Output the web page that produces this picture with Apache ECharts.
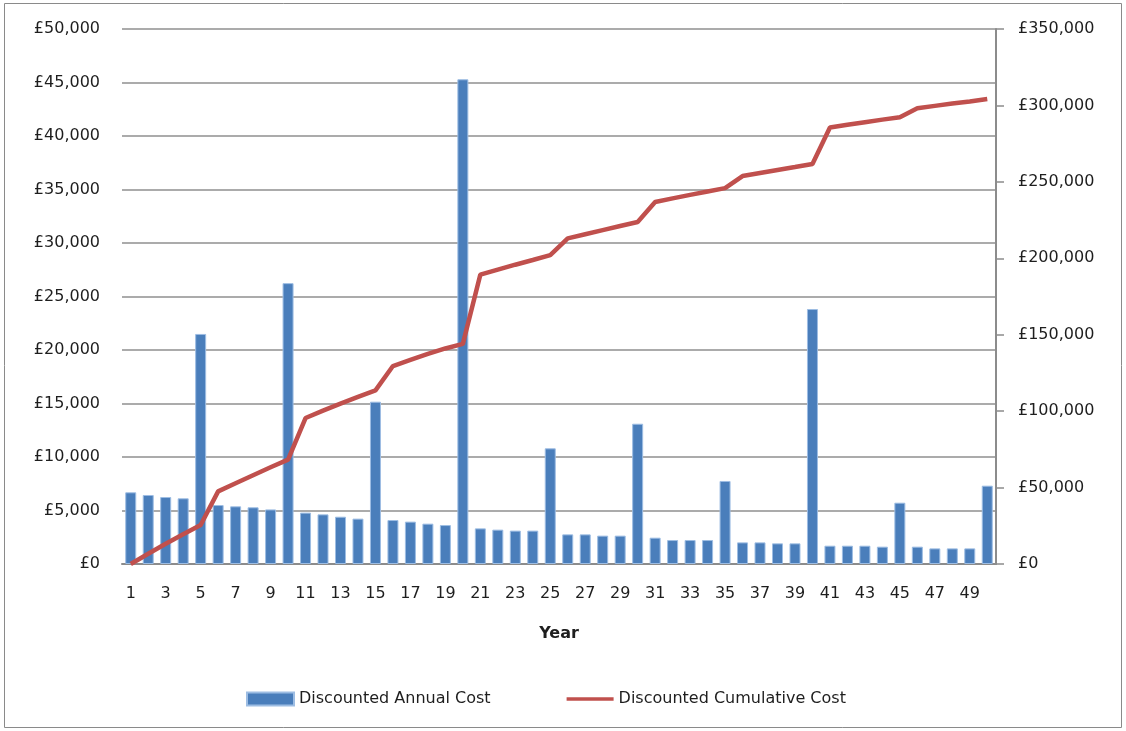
<!DOCTYPE html>
<html>
<head>
<meta charset="utf-8">
<script src="https://cdn.jsdelivr.net/npm/echarts@6/dist/echarts.min.js"></script>
<style>
  html, body { margin: 0; padding: 0; background: #ffffff; }
  #chart { width: 1126px; height: 731px; }
</style>
</head>
<body>
<div id="chart"></div>
<script>
// Years of the appraisal period
const years = ['1','2','3','4','5','6','7','8','9','10',
  '11','12','13','14','15','16','17','18','19','20',
  '21','22','23','24','25','26','27','28','29','30',
  '31','32','33','34','35','36','37','38','39','40',
  '41','42','43','44','45','46','47','48','49','50'];

// Discounted cost incurred in each year (£)
const annualCost = [6700, 6450, 6260, 6140, 21500, 5510, 5390, 5300, 5100, 26250,
  4800, 4640, 4420, 4240, 15170, 4110, 3960, 3770, 3640, 45300,
  3330, 3210, 3120, 3120, 10810, 2770, 2770, 2650, 2650, 13110,
  2460, 2240, 2240, 2240, 7760, 2020, 2020, 1930, 1930, 23830,
  1710, 1710, 1710, 1620, 5730, 1620, 1460, 1460, 1460, 7320];

// Running total of discounted cost (£)
const cumulativeCost = [0, 6700, 13200, 19400, 25500, 47500, 52800, 58100, 63300, 68300,
  95500, 100300, 104900, 109300, 113600, 129500, 133500, 137400, 141000, 144000,
  189300, 192600, 195800, 198900, 202100, 213000, 215700, 218400, 221100, 223700,
  236800, 239200, 241500, 243700, 245900, 253800, 255800, 257800, 259700, 261700,
  285600, 287300, 289000, 290700, 292300, 298100, 299700, 301200, 302600, 304200];

// Axis ranges
const leftAxisMax = 50000, leftAxisStep = 5000;
const rightAxisMax = 350000, rightAxisStep = 50000;

const pounds = v => '£' + Number(v).toLocaleString('en-GB');
const FONT = 'DejaVu Sans';
const TEXT = '#1e1e1e';
const SIZE = 16;

const chart = echarts.init(document.getElementById('chart'), null, { renderer: 'canvas' });

chart.setOption({
  backgroundColor: '#ffffff',
  animation: false,
  textStyle: { fontFamily: FONT, color: TEXT },
  graphic: [{
    type: 'rect',
    shape: { x: 4.5, y: 3.5, width: 1117, height: 724 },
    style: { fill: 'none', stroke: '#8a8a8a', lineWidth: 1 },
    silent: true
  }],
  grid: { left: 122, right: 130, top: 29, bottom: 167, containLabel: false },
  legend: {
    top: 686,
    left: 241,
    itemGap: 76,
    itemWidth: 47,
    itemHeight: 13,
    textStyle: { fontFamily: FONT, fontSize: SIZE, color: TEXT },
    data: [
      { name: 'Discounted Annual Cost', icon: 'rect' },
      { name: 'Discounted Cumulative Cost', icon: 'path://M0,0H52V4H0Z',
        itemStyle: { color: '#c0504d' } }
    ]
  },
  xAxis: {
    type: 'category',
    data: years,
    name: 'Year',
    nameLocation: 'middle',
    nameGap: 62,
    nameTextStyle: { fontFamily: FONT, fontSize: SIZE, fontWeight: 'bold', color: TEXT },
    axisLine: { show: true, lineStyle: { color: '#8c8c8c', width: 2 } },
    axisTick: { show: false },
    axisLabel: {
      interval: 1,
      margin: 22,
      fontFamily: FONT, fontSize: SIZE, color: TEXT
    },
    splitLine: { show: false }
  },
  yAxis: [
    {
      type: 'value',
      min: 0, max: leftAxisMax, interval: leftAxisStep,
      position: 'left',
      axisLine: { show: false },
      axisTick: { show: false },
      axisLabel: { margin: 22, fontFamily: FONT, fontSize: SIZE, color: TEXT, formatter: pounds },
      splitLine: { show: true, lineStyle: { color: '#8f8f8f', width: 1.6 } }
    },
    {
      type: 'value',
      min: 0, max: rightAxisMax, interval: rightAxisStep,
      position: 'right',
      axisLine: { show: true, lineStyle: { color: '#8c8c8c', width: 2 } },
      axisTick: { show: true, length: 8, inside: false, lineStyle: { color: '#8c8c8c', width: 1.5 } },
      axisLabel: { margin: 22, fontFamily: FONT, fontSize: SIZE, color: TEXT, formatter: pounds },
      splitLine: { show: false }
    }
  ],
  series: [
    {
      name: 'Discounted Annual Cost',
      type: 'bar',
      yAxisIndex: 0,
      data: annualCost,
      barWidth: 11,
      itemStyle: { color: '#4a7ebb', borderColor: '#9dbde3', borderWidth: 1 },
      z: 2
    },
    {
      name: 'Discounted Cumulative Cost',
      type: 'line',
      yAxisIndex: 1,
      data: cumulativeCost,
      symbol: 'none',
      lineStyle: { color: '#c0504d', width: 4.5 },
      itemStyle: { color: '#c0504d' },
      z: 3
    }
  ]
});
</script>
</body>
</html>
